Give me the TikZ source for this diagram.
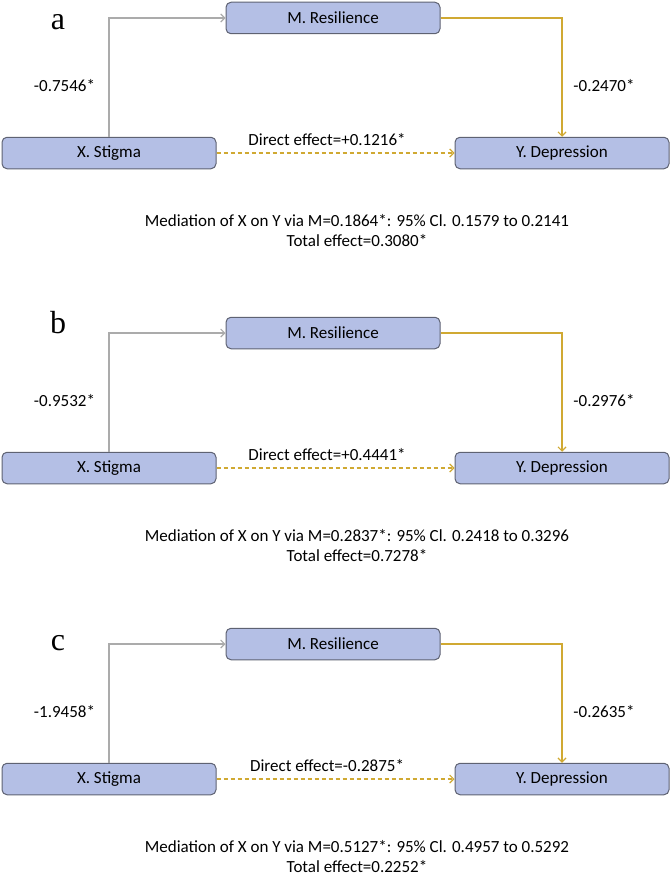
\documentclass[tikz,border=0pt]{standalone}
\usepackage{fontspec}
\setmainfont{Carlito}
\newfontfamily\letterfont{Liberation Serif}
\usetikzlibrary{arrows.meta}
\definecolor{boxfill}{HTML}{B4BFE5}
\definecolor{boxline}{HTML}{5E6272}
\definecolor{grayline}{HTML}{ABABAB}
\definecolor{goldline}{HTML}{D0A932}
\tikzset{
  var/.style={draw=boxline, fill=boxfill, line width=1pt, rounded corners=5pt,
    minimum width=214pt, minimum height=31.5pt, inner sep=0pt,
    font=\fontsize{17}{20}\selectfont},
  lbl/.style={font=\fontsize{17}{20}\selectfont, inner sep=0pt, anchor=base},
  letter/.style={font=\letterfont\fontsize{32}{34}\selectfont, inner sep=0pt, anchor=base},
  tipstyle/.style={-{Straight Barb[length=4pt,width=8pt]}},
  graypath/.style={draw=grayline, line width=1.1pt, tipstyle},
  goldpath/.style={draw=goldline, line width=1.2pt, tipstyle},
  directpath/.style={draw=goldline, line width=1.2pt, dash pattern=on 4pt off 3pt, tipstyle}
}
\newcommand\mpanel[9]{%
  \begin{scope}[yshift=-#2pt]
    \node[var] (M#1) at (333,18) {M. Resilience};
    \node[var] (X#1) at (109,153) {X. Stigma};
    \node[var] (Y#1) at (562,153) {Y. Depression};
    \node[letter] (L#1) at (58,#4) {#3};
    \node[lbl] (A#1) at (64.5,91) {#5};
    \node[lbl] (B#1) at (604,91) {#6};
    \node[lbl] (D#1) at (327,145.5) {#7};
    \node[lbl] (Med#1) at (357,226.5) {#8};
    \node[lbl] (T#1) at (357,246) {#9};
    \draw[graypath] (X#1.north) |- (M#1.west);
    \draw[goldpath] (M#1.east) -| (Y#1.north);
    \draw[directpath] (X#1.east) -- (Y#1.west);
  \end{scope}}
\begin{document}
\begin{tikzpicture}[x=1pt, y=-1pt]
  \useasboundingbox (0,0) rectangle (671,875);
  \mpanel{a}{0}{a}{30}{-0.7546*}{-0.2470*}{Direct effect=+0.1216*}
    {Mediation of X on Y via M=0.1864*: 95\% Cl. 0.1579 to 0.2141}{Total effect=0.3080*}
  \mpanel{b}{315}{b}{18.3}{-0.9532*}{-0.2976*}{Direct effect=+0.4441*}
    {Mediation of X on Y via M=0.2837*: 95\% Cl. 0.2418 to 0.3296}{Total effect=0.7278*}
  \mpanel{c}{626}{c}{24}{-1.9458*}{-0.2635*}{Direct effect=-0.2875*}
    {Mediation of X on Y via M=0.5127*: 95\% Cl. 0.4957 to 0.5292}{Total effect=0.2252*}
\end{tikzpicture}
\end{document}
